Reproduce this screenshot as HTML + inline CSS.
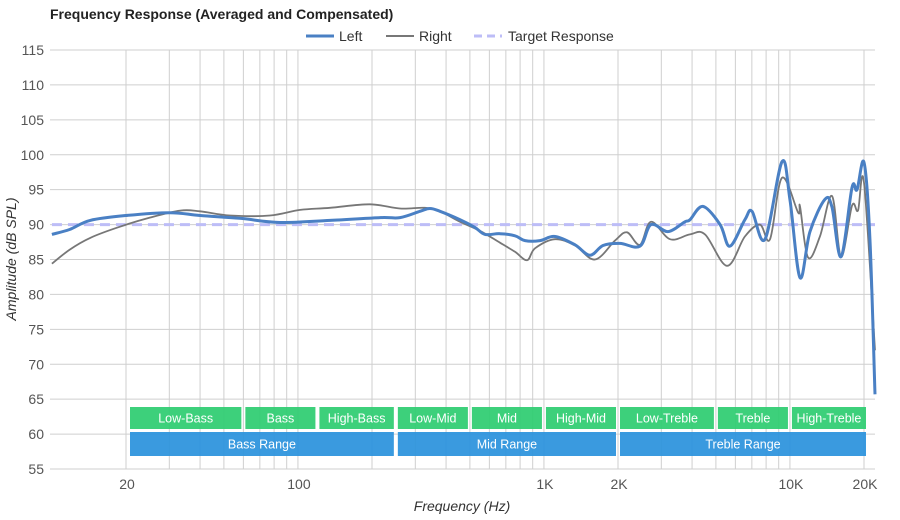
<!DOCTYPE html>
<html><head><meta charset="utf-8"><style>
html,body{margin:0;padding:0;background:#fff;}
svg{display:block;font-family:"Liberation Sans",Arial,sans-serif;}
</style></head><body>
<svg id="chart" width="900" height="520" viewBox="0 0 900 520">
<text x="50" y="19" font-size="14" font-weight="bold" fill="#222">Frequency Response (Averaged and Compensated)</text>
<g>
<g><line x1="306" y1="36" x2="334" y2="36" stroke="#4a80c4" stroke-width="3"/><text x="339" y="41" font-size="14" fill="#333">Left</text></g>
<g><line x1="386" y1="36" x2="414" y2="36" stroke="#777" stroke-width="2"/><text x="419" y="41" font-size="14" fill="#333">Right</text></g>
<g><line x1="474" y1="36" x2="502" y2="36" stroke="#bdbdf7" stroke-width="3" stroke-dasharray="8,5"/><text x="508" y="41" font-size="14" fill="#333">Target Response</text></g>
</g>
<g id="grid"></g>
<g id="bands"></g>
<g id="series"></g>
<g id="axes"></g>
<text transform="translate(16,259) rotate(-90)" text-anchor="middle" font-size="14" font-style="italic" fill="#333">Amplitude (dB SPL)</text>
<text x="462" y="511" text-anchor="middle" font-size="14" font-style="italic" fill="#333">Frequency (Hz)</text>
</svg>
<script>
const yTicks=[55,60,65,70,75,80,85,90,95,100,105,110,115];
const xTickValues=[20,100,1000,2000,10000,20000];
const xTickLabels=["20","100","1K","2K","10K","20K"];
const leftFreqs=[10,11.8,14.3,20,30.2,40,58,84.5,135,216,260,313,344,378,456,524,576,663,763,838,964,1109,1337,1538,1738,2038,2455,2724,3192,3740,3924,4428,5200,5700,6560,7012,7920,9280,10000,10990,12060,13870,14820,16140,17880,18740,20000,21140,22200];
const leftDb=[88.6,89.3,90.6,91.3,91.7,91.3,90.9,90.3,90.6,91,91,91.9,92.3,91.9,90.7,89.6,88.6,88.7,88.4,87.7,87.7,88.3,87.1,85.6,87,87.3,86.9,90,89,90.4,90.7,92.6,90,86.9,90.7,91.9,87.9,99,93.6,82.4,89,93.6,92.5,85.4,95.3,95,98.9,88,65.7];
const rightFreqs=[10,11.8,14.3,18.9,25,33.2,40,53,77,102,135,196,260,328,378,456,550,663,763,854,920,1109,1337,1612,1944,2176,2455,2724,3254,3924,4516,5550,6560,7552,8300,9280,10800,10990,11840,13240,14820,16140,17880,18900,20000,22200];
const rightDb=[84.4,86.4,88.1,89.7,91,92,91.9,91.3,91.3,92.1,92.4,92.9,92.3,92.4,91.9,90.4,89.1,87.4,86.1,84.9,86.6,87.9,87,85,87.7,88.9,87.1,90.4,87.9,88.6,88.6,84.1,88.3,90,87.9,96.7,91.7,92.6,85.3,88.3,94.1,85.4,92.7,92,96,72];
const targetFreqs=[10,22200];
const targetDb=[90,90];
const bandNames=["Low-Bass","Bass","High-Bass","Low-Mid","Mid","High-Mid","Low-Treble","Treble","High-Treble"];
const bandEdges=[20,60,120,250,500,1000,2000,5000,10000,20000];
const rangeNames=["Bass Range","Mid Range","Treble Range"];
const rangeEdges=[20,250,2000,20000];

const NS="http://www.w3.org/2000/svg";
const PL=50,PR=875,PT=50,PB=469;
function xs(f){return 126+246*Math.log10(f/20);}
function ys(d){return PB-(d-55)*(PB-PT)/60;}
function mk(tag,attrs,parent){const e=document.createElementNS(NS,tag);for(const k in attrs)e.setAttribute(k,attrs[k]);parent.appendChild(e);return e;}
const grid=document.getElementById('grid'),axes=document.getElementById('axes'),bands=document.getElementById('bands'),series=document.getElementById('series');
yTicks.forEach(v=>{
  const l=mk('line',{x1:PL,x2:PR,y1:ys(v),y2:ys(v),stroke:'#cfcfcf','stroke-width':1},grid);
  
  
  const t=mk('text',{x:44,y:ys(v)+5,'text-anchor':'end','font-size':14,fill:'#555'},axes);
  t.textContent=v;
  
  
});
for(let dec=10;dec<=10000;dec*=10){for(let m=1;m<=9;m++){const f=dec*m;if(f<20||f>20000)continue;
  const l=mk('line',{x1:xs(f),x2:xs(f),y1:PT,y2:PB,stroke:'#cfcfcf','stroke-width':1},grid);
  
  }}
{const l=mk('line',{x1:xs(20000),x2:xs(20000),y1:PT,y2:PB,stroke:'#cfcfcf'},grid);

}
xTickValues.forEach((f,i)=>{
  const t=mk('text',{x:xs(f)+1,y:489,'text-anchor':'middle','font-size':14,fill:'#555'},axes);
  t.textContent=xTickLabels[i];
  
  
});
function band(f0,f1,y,h,col,name){
  const x0=xs(f0)+(f0===20?4:2),x1=xs(f1)-(f1===20000?-2:2);
  const r=mk('rect',{x:x0,y:y,width:x1-x0,height:h,fill:col,opacity:0.93},bands);
  
  
  const t=mk('text',{x:(x0+x1)/2,y:y+h/2+4.5,'text-anchor':'middle','font-size':12.5,fill:'#fff'},bands);
  t.textContent=name;
  
  
}
bandNames.forEach((n,i)=>band(bandEdges[i],bandEdges[i+1],407,22,'#2ecc71',n));
rangeNames.forEach((n,i)=>band(rangeEdges[i],rangeEdges[i+1],432,24,'#2b92dd',n));
function smoothPath(fs,ds){
  const p=fs.map((f,i)=>[Math.max(PL,Math.min(PR,xs(f))),ys(ds[i])]);
  let d='M'+p[0][0].toFixed(1)+','+p[0][1].toFixed(1);
  for(let i=0;i<p.length-1;i++){
    const p0=p[Math.max(0,i-1)],p1=p[i],p2=p[i+1],p3=p[Math.min(p.length-1,i+2)];
    const t=0.17;
    const c1=[p1[0]+(p2[0]-p0[0])*t,p1[1]+(p2[1]-p0[1])*t];
    const c2=[p2[0]-(p3[0]-p1[0])*t,p2[1]-(p3[1]-p1[1])*t];
    d+=' C'+c1[0].toFixed(1)+','+c1[1].toFixed(1)+' '+c2[0].toFixed(1)+','+c2[1].toFixed(1)+' '+p2[0].toFixed(1)+','+p2[1].toFixed(1);
  }
  return d;
}
const tg=mk('line',{x1:Math.max(PL,xs(targetFreqs[0])),x2:Math.min(PR,xs(targetFreqs[1])),y1:ys(targetDb[0]),y2:ys(targetDb[1]),stroke:'#bdbdf7','stroke-width':3,'stroke-dasharray':'10,6'},series);


const rp=mk('path',{d:smoothPath(rightFreqs,rightDb),fill:'none',stroke:'#777','stroke-width':1.8,'stroke-linejoin':'round'},series);


const lp=mk('path',{d:smoothPath(leftFreqs,leftDb),fill:'none',stroke:'#4a80c4','stroke-width':3,'stroke-linejoin':'round'},series);


</script>
</body></html>
